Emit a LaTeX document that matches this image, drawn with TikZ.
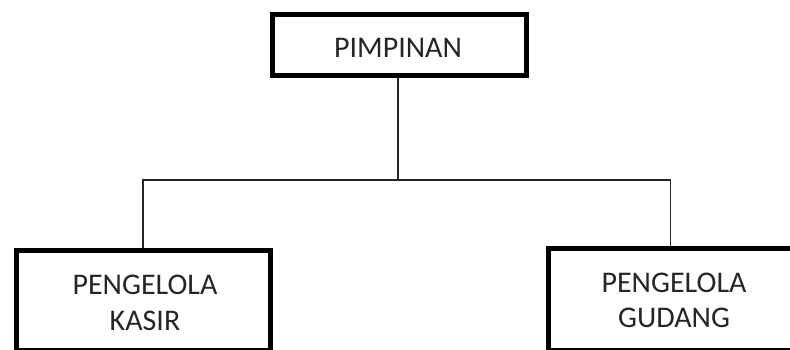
\documentclass[tikz,border=0pt]{standalone}
\usepackage{fontspec}
\setmainfont{Carlito}
\begin{document}
\begin{tikzpicture}[x=1pt,y=-1pt,
  box/.style={draw=black, line width=5pt, rectangle, inner sep=0pt},
  lbl/.style={anchor=base, inner sep=0pt, font=\fontsize{30}{36}\selectfont, text=black!85},
  conn/.style={draw=black!85, line width=1.6pt}]
\useasboundingbox (0,0) rectangle (790,350);
\fill[white] (0,0) rectangle (790,350);
% boxes
\node[box, minimum width=254pt, minimum height=61pt] (top) at (399,45.5) {};
\node[box, minimum width=254pt, minimum height=100pt] (kasir) at (143,300) {};
\node[box, minimum width=280pt, minimum height=101.5pt] (gudang) at (688,299.25) {};
\coordinate (gd) at ([xshift=125pt]gudang.north west);
% texts
\node[lbl] (topt) at (398,58) {PIMPINAN};
\node[lbl] (kasirt1) at (145,294) {PENGELOLA};
\node[lbl] (kasirt2) at (145,330) {KASIR};
\node[lbl] (gudangt1) at (674,292) {PENGELOLA};
\node[lbl] (gudangt2) at (674,327) {GUDANG};
% connectors
\coordinate (j) at (398,180);
\draw[conn] (top.south -| j) -- (j);
\draw[conn] (kasir.north) |- (j) -| (gd);
\end{tikzpicture}
\end{document}
